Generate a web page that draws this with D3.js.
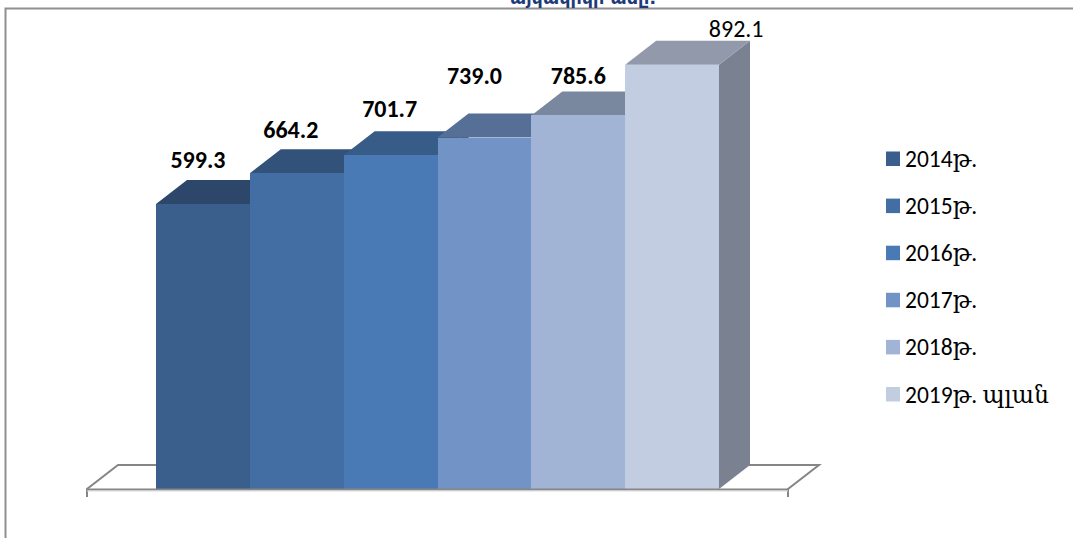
<!DOCTYPE html>
<html><head><meta charset="utf-8">
<script src="https://cdn.jsdelivr.net/npm/d3@7"></script>
<style>html,body{margin:0;padding:0;background:#fff;overflow:hidden}svg{display:block}</style>
</head><body><svg id="c" width="1073" height="538"></svg>
<script>
const categories = ["2014թ.","2015թ.","2016թ.","2017թ.","2018թ.","2019թ. պլան"];
const values = [599.3,664.2,701.7,739.0,785.6,892.1];
const labels = ["599.3","664.2","701.7","739.0","785.6","892.1"];
const frontColors = ["#3a5f8d","#426ea3","#4a7ab6","#7293c5","#a1b4d6","#c2cde2"];
const topColors = ["#2c4769","#32527a","#385c88","#566f96","#7a889f","#9299ab"];
const sideColors = ["#2c4769","#32527a","#385c88","#566f96","#7a889f","#7a8190"];
const titleText = "այկակիկի աճը:";

const svg = d3.select("#c");
const x = d3.scaleBand().domain(categories).range([156,719]).padding(0);
const y = d3.scaleLinear().domain([0,1000]).range([489,13.5]);
const dx = 31, dy = -24, base = y(0);
const gridC = "#868686";
const labelFont = "Carlito,Lato,sans-serif";

svg.append("path").attr("d","M5.5,538V8.5H1073").attr("fill","none").attr("stroke","#8f8f8f").attr("stroke-width",2);
svg.append("text").attr("x",583).attr("y",4).attr("text-anchor","middle")
  .attr("font-family","'DejaVu Sans',sans-serif").attr("font-weight","700").attr("font-size",17.5).attr("fill","#1f3a78").text(titleText);

const fx0 = 87, fx1 = 788;
svg.append("path").attr("d",`M${fx0},${base+8}V${base}L${fx0+dx},${base+dy}H${fx1+dx}L${fx1},${base}V${base+8}`)
  .attr("fill","none").attr("stroke",gridC).attr("stroke-width",2);

const g = svg.append("g");
const w = x.bandwidth();
const last = categories.length-1;
categories.forEach((c,i)=>{
  const x0 = x(c), t = y(values[i]);
  g.append("path").attr("d",`M${x0+w},${base}L${x0+w+dx},${base+dy}V${t+dy}L${x0+w},${t}Z`).attr("fill",sideColors[i]);
  g.append("path").attr("d",`M${x0},${t}L${x0+dx},${t+dy}H${x0+w+dx}L${x0+w},${t}Z`).attr("fill",topColors[i]);
  g.append("rect").attr("x",x0).attr("y",t).attr("width",w).attr("height",base-t).attr("fill",frontColors[i]).attr("shape-rendering","crispEdges");
});
svg.append("line").attr("x1",fx0).attr("x2",fx1).attr("y1",base+0.5).attr("y2",base+0.5).attr("stroke",gridC).attr("stroke-width",2);
svg.append("line").attr("x1",fx0).attr("x2",fx1).attr("y1",base+2).attr("y2",base+2).attr("stroke","#d9d9d9").attr("stroke-width",1);

const labelShift = [[42,-36],[41,-35],[46,-38],[37,-54],[47,-31],[111,-28]];
labels.forEach((l,i)=>{
  const isLast = i===last;
  svg.append("text").attr("x",x(categories[i])+labelShift[i][0]).attr("y",y(values[i])+labelShift[i][1])
    .attr("text-anchor","middle").attr("font-family",labelFont)
    .attr("font-weight",isLast?400:700).attr("font-size",24).attr("fill","#000").text(l);
});
const ly = d3.scalePoint().domain(categories).range([158.5,394]);
categories.forEach((c,i)=>{
  svg.append("rect").attr("x",886).attr("y",ly(c)-7).attr("width",14).attr("height",14.5).attr("fill",frontColors[i]);
  svg.append("text").attr("x",905).attr("y",ly(c)+8.5).attr("font-family","Carlito,Lato,'DejaVu Serif',serif").attr("font-size",23.5).attr("fill","#000").text(c);
});
</script></body></html>
